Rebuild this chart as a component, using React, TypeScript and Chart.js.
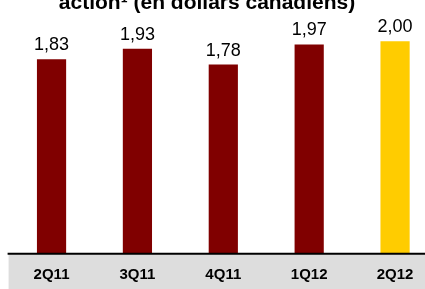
import React, { useEffect, useRef } from "react";
import { Chart, registerables } from "chart.js";
Chart.register(...registerables);

const categories = ["2Q11", "3Q11", "4Q11", "1Q12", "2Q12"];
const values = [1.83, 1.93, 1.78, 1.97, 2.0];
const valueLabels = ["1,83", "1,93", "1,78", "1,97", "2,00"];
const barColors = ["#800000", "#800000", "#800000", "#800000", "#FFCC00"];
const titleText = "action¹ (en dollars canadiens)";

const FONT = "'Liberation Sans', Arial, sans-serif";

const decorPlugin = {
  id: "decor",
  beforeDraw(chart: any) {
    const { ctx, chartArea } = chart;
    ctx.save();
    ctx.fillStyle = "#DDDDDD";
    ctx.fillRect(chartArea.left, chartArea.bottom + 1, chart.width - chartArea.left, chart.height - chartArea.bottom);
    ctx.restore();
  },
  afterDatasetsDraw(chart: any) {
    const { ctx, chartArea } = chart;
    ctx.save();
    // baseline
    ctx.strokeStyle = "#000000";
    ctx.lineWidth = 2;
    ctx.beginPath();
    ctx.moveTo(chartArea.left - 1, chartArea.bottom + 0.7);
    ctx.lineTo(chart.width, chartArea.bottom + 0.7);
    ctx.stroke();

    // value labels
    const meta = chart.getDatasetMeta(0);
    ctx.fillStyle = "#000000";
    ctx.textAlign = "center";
    ctx.textBaseline = "alphabetic";
    ctx.font = `18px ${FONT}`;
    meta.data.forEach((el: any, i: number) => {
      ctx.fillText(valueLabels[i], el.x, el.y - 9);
    });

    // category labels
    const xs = chart.scales.x;
    ctx.font = `bold 15px ${FONT}`;
    ctx.textBaseline = "middle";
    categories.forEach((c, i) => {
      ctx.fillText(c, xs.getPixelForValue(i), chartArea.bottom + 22);
    });

    // title (cropped at top)
    ctx.font = `bold 21px ${FONT}`;
    ctx.textBaseline = "alphabetic";
    ctx.fillText(titleText, 207, 9);
    ctx.restore();
  },
};

export default function App() {
  const ref = useRef<HTMLCanvasElement>(null);
  useEffect(() => {
    if (!ref.current) return;
    const chart = new Chart(ref.current, {
      type: "bar",
      data: {
        labels: categories,
        datasets: [
          {
            data: values,
            backgroundColor: barColors,
            borderWidth: 0,
            barPercentage: 0.34,
            categoryPercentage: 1,
          },
        ],
      },
      options: {
        responsive: false,
        animation: false,
        layout: { padding: { left: 8.6, right: 2, top: 0, bottom: 36 } },
        plugins: { legend: { display: false }, tooltip: { enabled: false }, title: { display: false } },
        scales: {
          x: { display: false },
          y: { display: false, min: 0, max: 2.39 },
        },
      },
      plugins: [decorPlugin],
    });
    return () => chart.destroy();
  }, []);
  return (
    <div style={{ position: "absolute", left: 0, top: 0, width: 425, height: 289, overflow: "hidden", background: "#fff" }}>
      <canvas ref={ref} width={440} height={289} style={{ display: "block" }} />
    </div>
  );
}
